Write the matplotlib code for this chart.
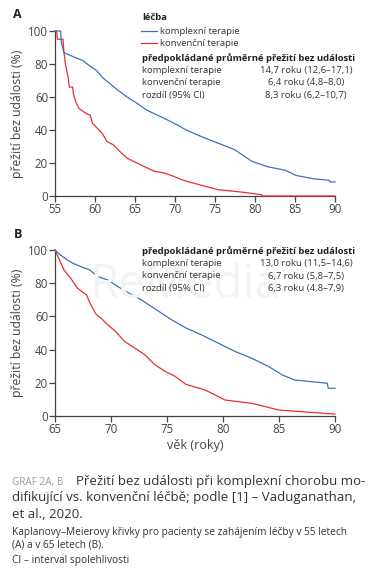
import numpy as np
import matplotlib
matplotlib.use("Agg")
import matplotlib.pyplot as plt

plt.rcParams['font.family'] = ['Open Sans', 'DejaVu Sans']

# ---- data (age in years, survival in %) ----
# panel A: start of treatment at 55
a_kompl_age = [55.0, 55.7, 55.8, 56.1, 57.0, 58.5, 59.3, 60.2, 61.0, 61.9, 62.9, 64.0, 65.3, 66.5,
               67.8, 69.1, 70.3, 71.4, 73.3, 75.4, 77.5, 79.6, 81.7, 83.8, 85.1, 87.2, 89.3, 89.4, 90.0]
a_kompl_surv = [100, 100, 93, 87, 85, 82, 79, 76, 71.5, 68, 64, 60, 56, 52,
                49, 46, 43, 40, 36, 32, 28, 21, 17.6, 15.6, 12.5, 10.5, 9.5, 8.5, 8.5]
a_konv_age = [55.0, 55.2, 55.3, 56.0, 56.1, 56.3, 56.6, 56.8, 57.2, 57.3, 57.6, 58.0, 58.9, 59.4,
              59.7, 60.3, 60.9, 61.5, 62.3, 63.1, 64.0, 64.8, 66.1, 67.4, 68.6, 69.8, 70.8,
              71.4, 73.3, 75.4, 78.3, 80.8, 81.0, 90.0]
a_konv_surv = [100, 100, 95, 95, 88, 80, 73, 66, 66, 62, 57, 53, 50, 49,
               44, 41, 38, 33, 31, 27, 23, 21, 18, 15, 14, 12, 10,
               9, 6.5, 3.8, 2.4, 0.8, 0, 0]

# panel B: start of treatment at 65
b_kompl_age = [65.0, 65.5, 66.1, 66.6, 67.3, 68.1, 68.8, 69.7, 70.6, 71.6, 72.7, 73.6, 74.5,
               75.4, 76.7, 78.1, 79.6, 81.1, 82.6, 84.1, 85.3, 86.4, 87.9, 89.3, 89.4, 90.0]
b_kompl_surv = [100, 97, 94, 92, 90, 88, 84, 82, 78, 74, 70, 66, 62,
                58, 53, 48.8, 43.8, 38.8, 34.7, 29.7, 24.7, 21.7, 20.7, 19.7, 16.7, 16.7]
b_konv_age = [65.0, 65.4, 65.8, 66.4, 67.0, 67.8, 68.2, 68.7, 69.1, 69.7, 70.4, 71.2, 72.1,
              73.0, 73.9, 74.8, 75.7, 76.7, 78.1, 78.4, 80.2, 82.6, 85.0, 87.0, 89.9, 90.0]
b_konv_surv = [100, 94, 88, 83, 77, 73, 67, 61, 59, 55, 51, 45, 41,
               37, 31, 27, 24, 19, 16.3, 15.7, 9.6, 7.6, 3.6, 2.6, 1.2, 1.2]

groups = ["komplexní terapie", "konvenční terapie"]
rows = ["komplexní terapie", "konvenční terapie", "rozdíl (95% CI)"]
a_values = ["14,7 roku (12,6–17,1)", "6,4 roku (4,8–8,0)", "8,3 roku (6,2–10,7)"]
b_values = ["13,0 roku (11,5–14,6)", "6,7 roku (5,8–7,5)", "6,3 roku (4,8–7,9)"]

BLUE = "#3d70bd"
RED = "#e8302c"
GREY = "#444444"

W, H = 370, 582
fig = plt.figure(figsize=(W / 100, H / 100), dpi=100)


def fx(x):
    return x / W


def fy(y):
    return 1 - y / H


def txt(x, y, s, **kw):
    fig.text(fx(x), fy(y), s, **kw)


def panel(y_top, y_bot, xmin, ages_b, surv_b, ages_r, surv_r, xticks):
    ax = fig.add_axes([fx(55), fy(y_bot), fx(335) - fx(55), fy(y_top) - fy(y_bot)])
    ax.plot(ages_r, surv_r, color=RED, lw=0.9, clip_on=False, zorder=3)
    ax.plot(ages_b, surv_b, color=BLUE, lw=0.9, clip_on=False, zorder=4)
    ax.set_xlim(xmin, 90)
    ax.set_ylim(0, 100)
    ax.set_xticks(xticks)
    ax.set_yticks([0, 20, 40, 60, 80, 100])
    for s in ['top', 'right']:
        ax.spines[s].set_visible(False)
    for s in ['left', 'bottom']:
        ax.spines[s].set_color(GREY)
        ax.spines[s].set_linewidth(0.9)
    ax.tick_params(colors=GREY, labelsize=8.3, length=4, width=0.9, pad=1)
    ax.set_ylabel("přežití bez události (%)", fontsize=8.8, color=GREY, labelpad=3)
    ax.patch.set_alpha(0)
    return ax


# watermark in panel B
txt(185, 285, "ReMedia", fontsize=34, color="#f3f3f3", ha='center', va='center', zorder=0)

axA = panel(31, 196, 55, a_kompl_age, a_kompl_surv, a_konv_age, a_konv_surv,
            [55, 60, 65, 70, 75, 80, 85, 90])
axB = panel(250, 416, 65, b_kompl_age, b_kompl_surv, b_konv_age, b_konv_surv,
            [65, 70, 75, 80, 85, 90])
axB.set_xlabel("věk (roky)", fontsize=9, color=GREY, labelpad=2)

# panel letters
txt(17, 15, "A", fontsize=9, fontweight='bold', color='#222222', va='center', ha='center')
txt(18, 234, "B", fontsize=9, fontweight='bold', color='#222222', va='center', ha='center')

# legend panel A
fs = 6.8
txt(142, 17, "léčba", fontsize=fs, fontweight='bold', color='#222222', va='center')
for yy, col, lab in [(31, BLUE, groups[0]), (43, RED, groups[1])]:
    fig.add_artist(plt.Line2D([fx(141), fx(157)], [fy(yy), fy(yy)], color=col, lw=0.9))
    txt(160, yy, lab, fontsize=fs, color='#333333', va='center')


def table(y0, values):
    txt(142, y0, "předpokládané průměrné přežití bez události", fontsize=fs,
        fontweight='bold', color='#222222', va='center')
    for i, (lab, val) in enumerate(zip(rows, values)):
        yy = y0 + 12.5 * (i + 1)
        txt(142, yy, lab, fontsize=fs, color='#333333', va='center')
        txt(306, yy, val, fontsize=fs, color='#333333', va='center', ha='center')


table(58, a_values)
table(251, b_values)

# caption
txt(12, 482, "GRAF 2A, B", fontsize=7.2, color='#9a9a9a', va='center')
txt(76, 482, "Přežití bez události při komplexní chorobu mo-", fontsize=9.5,
    color='#333333', va='center')
txt(12, 498, "difikující vs. konvenční léčbě; podle [1] – Vaduganathan,", fontsize=9.5,
    color='#333333', va='center')
txt(12, 514, "et al., 2020.", fontsize=9.5, color='#333333', va='center')
txt(12, 532, "Kaplanovy–Meierovy křivky pro pacienty se zahájením léčby v 55 letech",
    fontsize=7.3, color='#333333', va='center')
txt(12, 545, "(A) a v 65 letech (B).", fontsize=7.3, color='#333333', va='center')
txt(12, 560, "CI – interval spolehlivosti", fontsize=7.3, color='#333333', va='center')

fig.savefig("out.png", dpi=100)
